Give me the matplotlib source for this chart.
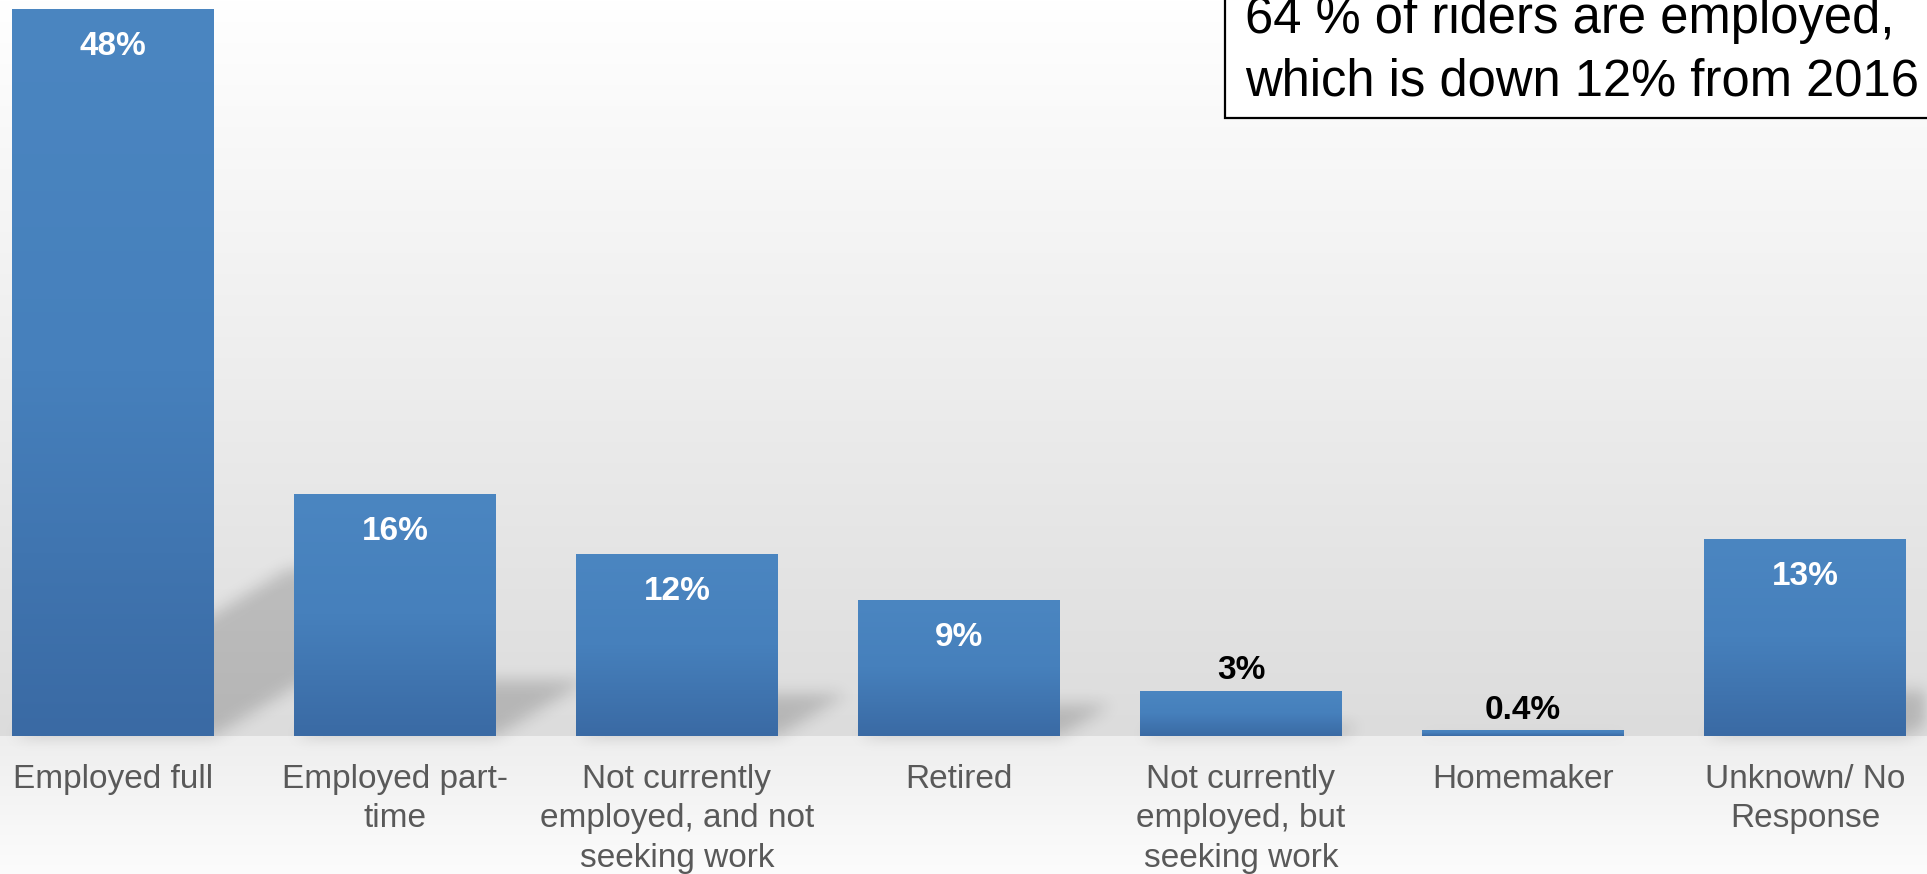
import numpy as np
import matplotlib
matplotlib.use("Agg")
import matplotlib.pyplot as plt
from matplotlib.collections import PolyCollection
from matplotlib.colors import LinearSegmentedColormap
from matplotlib.patches import Rectangle

plt.rcParams["font.family"] = ["Liberation Sans", "DejaVu Sans"]

# ---- data -------------------------------------------------------------
categories = [
    "Employed full",
    "Employed part-\ntime",
    "Not currently\nemployed, and not\nseeking work",
    "Retired",
    "Not currently\nemployed, but\nseeking work",
    "Homemaker",
    "Unknown/ No\nResponse",
]
shares = [48, 16, 12, 9, 3, 0.4, 13]
share_labels = ["48%", "16%", "12%", "9%", "3%", "0.4%", "13%"]
note_lines = ["64 % of riders are employed,", "which is down 12% from 2016"]

# ---- canvas geometry (pixels) ----------------------------------------
W, H, DPI = 1927, 874, 100
base_px = 736            # baseline of the bars, from the top edge
step_px = 282            # distance between category centres
first_px = 113           # centre of the first category
unit_px = 15.15          # pixels per percentage point
bar_w = 0.713

fig = plt.figure(figsize=(W / DPI, H / DPI), dpi=DPI)

# backdrop: light vertical gradient over the plot, lighter floor below
bg = fig.add_axes([0, 0, 1, 1], zorder=0)
bg.set_axis_off()
rows = np.arange(H, dtype=float)
shade = np.where(rows < base_px,
                 255 - (255 - 220) * rows / base_px,
                 238 + (252 - 238) * (rows - base_px) / (H - base_px)) / 255
bg.imshow(np.repeat(shade[:, None, None], 3, axis=2), aspect="auto",
          extent=[0, 1, 0, 1], interpolation="nearest")
bg.set_xlim(0, 1)
bg.set_ylim(0, 1)

n = len(shares)
ax = fig.add_axes([(first_px - 0.5 * step_px) / W, (H - base_px) / H,
                   n * step_px / W, base_px / H], zorder=1)
ax.patch.set_alpha(0)


# ---- soft drop shadows -----------------------------------------------
def _blur(a, s):
    r = int(np.ceil(3 * s))
    k = np.exp(-0.5 * (np.arange(-r, r + 1) / s) ** 2)
    k /= k.sum()
    for axis in (0, 1):
        a = np.apply_along_axis(lambda m: np.convolve(m, k, mode="same"), axis, a)
    return a


class SoftShadow:
    def __init__(self, sigma_pt, alpha, level):
        self.sigma_pt = sigma_pt
        self.alpha = alpha
        self.level = level

    def __call__(self, im, dpi):
        s = self.sigma_pt * dpi / 72
        pad = int(np.ceil(3 * s))
        a = _blur(np.pad(im[:, :, 3], pad), s)
        out = np.zeros(a.shape + (4,), dtype=float)
        out[..., :3] = self.level
        out[..., 3] = np.clip(a * self.alpha, 0, 1)
        return out, -pad, -pad


skew = 0.38 * unit_px / step_px   # sideways lean of the shadow per point
rise = 0.23                       # shadow height relative to the bar
polys = []
for i, v in enumerate(shares):
    x0, x1 = i - bar_w / 2, i + bar_w / 2
    polys.append([(x0, 0), (x1, 0), (x1 + skew * v, rise * v), (x0 + skew * v, rise * v)])
shadow = PolyCollection(polys, facecolors="black", edgecolors="none", zorder=1)
shadow.set_agg_filter(SoftShadow(sigma_pt=4, alpha=0.42, level=0.0))
ax.add_collection(shadow)

# ---- bars with a top-to-bottom gradient -------------------------------
bars = ax.bar(range(n), shares, width=bar_w, color="#4682BD", linewidth=0, zorder=2)
bar_cmap = LinearSegmentedColormap.from_list("bar_fill", ["#4B86C1", "#4680BC", "#3A6AA4"])
grad = np.linspace(0, 1, 256)[:, None]
for b in bars:
    x0, w, h = b.get_x(), b.get_width(), b.get_height()
    im = ax.imshow(grad, cmap=bar_cmap, extent=[x0, x0 + w, 0, h], origin="upper",
                   aspect="auto", interpolation="bilinear", zorder=3)
    im.set_clip_path(b)

# ---- value labels -----------------------------------------------------
for i, (v, lab) in enumerate(zip(shares, share_labels)):
    if v >= 5:
        ax.annotate(lab, (i, v), xytext=(0, -46 * 0.72), textcoords="offset points",
                    ha="center", va="baseline", color="white", fontsize=24,
                    fontweight="bold", zorder=4)
    else:
        ax.annotate(lab, (i, v), xytext=(0, 8), textcoords="offset points",
                    ha="center", va="baseline", color="black", fontsize=24,
                    fontweight="bold", zorder=4)

ax.set_xlim(-0.5, n - 0.5)
ax.set_ylim(0, base_px / unit_px)
ax.set_xticks(range(n))
ax.set_xticklabels(categories, fontsize=24, color="#595959", linespacing=1.36)
ax.tick_params(axis="x", length=0, pad=20)
ax.set_yticks([])
for sp in ax.spines.values():
    sp.set_visible(False)

# ---- note box in the top-right corner ---------------------------------
box_left, box_bottom = 1225, 118
fig.patches.append(Rectangle((box_left / W, 1 - box_bottom / H), 1, 1,
                             transform=fig.transFigure, facecolor="white",
                             edgecolor="black", linewidth=1.6, zorder=5))
fig.text(1245 / W, 1 - 96 / H, "\n".join(note_lines), fontsize=36.5, color="black",
         ha="left", va="baseline", linespacing=1.36, zorder=6)

fig.savefig("out.png", dpi=DPI)
